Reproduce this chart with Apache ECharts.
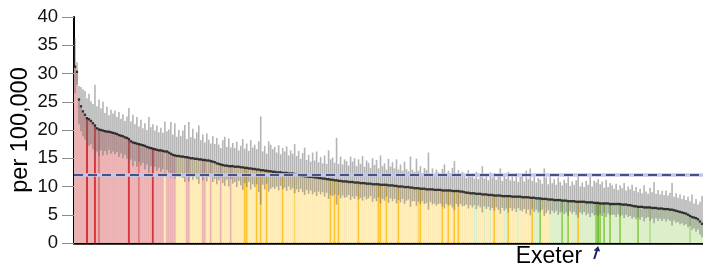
<!DOCTYPE html>
<html>
<head>
<meta charset="utf-8">
<script src="https://cdn.jsdelivr.net/npm/echarts@6/dist/echarts.min.js"></script>
<style>
  html, body { margin: 0; padding: 0; background: #fff; }
  #chart { width: 703px; height: 269px; }
</style>
</head>
<body>
<div id="chart"></div>
<script>
// rate per 100,000, sorted high to low (one value per local authority)
const rate = [
  31.2,30.3,25.4,24.2,23.3,22.7,22.1,21.9,21.6,21.2,
  20.8,20.3,20.1,20.0,19.9,19.8,19.7,19.7,19.6,19.5,
  19.4,19.3,19.1,19.0,18.9,18.7,18.6,18.4,18.0,17.8,
  17.7,17.6,17.5,17.4,17.3,17.2,17.0,16.9,16.8,16.7,
  16.6,16.5,16.4,16.4,16.3,16.2,16.2,16.0,15.8,15.6,
  15.5,15.4,15.4,15.3,15.3,15.2,15.2,15.1,15.0,15.0,
  14.9,14.9,14.8,14.8,14.7,14.7,14.6,14.6,14.5,14.4,
  14.3,14.1,14.0,13.9,13.8,13.7,13.7,13.6,13.6,13.6,
  13.5,13.5,13.5,13.4,13.4,13.3,13.3,13.2,13.2,13.1,
  13.1,13.0,13.0,12.9,12.9,12.8,12.8,12.7,12.7,12.6,
  12.6,12.5,12.5,12.5,12.4,12.4,12.4,12.3,12.3,12.3,
  12.2,12.1,12.0,11.9,11.9,11.8,11.8,11.7,11.7,11.7,
  11.6,11.6,11.5,11.5,11.4,11.4,11.3,11.3,11.2,11.2,
  11.1,11.1,11.0,11.0,10.9,10.9,10.9,10.8,10.8,10.8,
  10.7,10.7,10.7,10.6,10.6,10.6,10.5,10.5,10.5,10.4,
  10.4,10.4,10.4,10.3,10.3,10.3,10.3,10.2,10.2,10.2,
  10.1,10.1,10.0,10.0,10.0,9.9,9.9,9.9,9.8,9.8,
  9.7,9.7,9.7,9.6,9.6,9.6,9.5,9.5,9.5,9.5,
  9.4,9.4,9.4,9.4,9.3,9.3,9.3,9.3,9.3,9.2,
  9.2,9.2,9.2,9.1,9.1,9.0,8.9,8.9,8.8,8.8,
  8.8,8.7,8.7,8.7,8.6,8.6,8.6,8.5,8.5,8.5,
  8.4,8.4,8.4,8.4,8.3,8.3,8.3,8.3,8.3,8.2,
  8.2,8.2,8.2,8.2,8.1,8.1,8.1,8.1,8.0,8.0,
  8.0,7.9,7.9,7.9,7.8,7.8,7.8,7.7,7.7,7.7,
  7.6,7.6,7.6,7.6,7.5,7.5,7.5,7.4,7.4,7.4,
  7.4,7.3,7.3,7.3,7.3,7.3,7.2,7.2,7.2,7.2,
  7.1,7.1,7.1,7.0,7.0,7.0,7.0,7.0,6.9,6.9,
  6.9,6.9,6.9,6.9,6.8,6.8,6.8,6.7,6.7,6.6,
  6.5,6.5,6.4,6.4,6.4,6.3,6.3,6.3,6.3,6.2,
  6.2,6.2,6.1,6.1,6.1,6.0,6.0,6.0,5.9,5.9,
  5.8,5.7,5.6,5.5,5.4,5.3,5.2,5.0,4.8,4.6,
  4.5,4.4,4.2,3.8,3.4
];

// 95% confidence limits
const upper = [
  36.2,32.0,27.8,27.6,27.2,26.9,25.6,26.4,25.1,24.6,
  28.0,24.2,25.4,23.8,25.0,23.0,24.1,22.6,23.6,22.9,
  23.4,22.3,23.2,22.0,22.8,21.6,22.4,23.9,21.5,22.7,
  21.0,22.3,20.6,21.8,20.3,21.2,20.0,22.3,20.5,21.0,
  19.9,20.8,19.6,20.4,19.5,21.5,19.8,20.1,21.4,19.2,
  21.2,18.8,20.0,18.9,19.9,20.9,18.4,21.4,18.7,20.2,
  18.5,19.6,20.8,18.2,19.2,17.8,19.4,18.3,17.6,18.9,
  17.5,18.6,17.4,16.8,18.2,18.8,17.0,18.5,16.9,17.7,
  16.8,17.9,16.4,17.2,18.4,16.7,17.6,16.3,18.2,16.9,
  17.4,16.6,18.0,22.4,16.2,17.2,15.8,18.0,17.4,16.6,
  17.0,16.0,17.3,15.7,16.8,16.2,17.1,15.5,16.4,15.8,
  17.5,15.4,16.3,14.9,15.9,16.9,14.7,15.6,14.4,16.0,
  14.6,16.2,14.3,15.2,14.1,15.5,14.0,16.4,14.8,15.1,
  14.2,18.6,14.0,15.3,13.9,14.8,14.5,13.7,15.3,14.4,
  15.0,13.6,14.8,14.0,15.4,13.5,14.6,14.2,13.3,15.0,
  13.8,14.7,13.2,15.5,13.6,14.1,13.0,14.9,13.5,14.3,
  13.2,14.8,13.0,13.9,12.8,14.4,13.1,12.7,15.3,13.0,
  12.6,14.9,12.8,13.6,12.4,13.3,12.9,16.0,12.3,13.2,
  12.1,13.0,12.5,12.2,13.1,13.9,12.0,12.8,12.4,13.3,
  14.5,12.0,12.9,11.8,12.6,12.2,11.5,12.9,11.7,12.3,
  11.4,12.6,11.3,12.0,13.6,11.4,12.2,11.1,12.5,11.6,
  12.3,11.2,11.9,13.2,11.0,12.1,11.4,12.6,11.1,11.9,
  11.0,12.4,10.8,11.7,12.1,10.9,12.8,11.3,13.2,11.0,
  11.8,10.7,11.5,11.2,10.5,13.2,11.6,10.4,11.9,10.6,
  11.3,10.3,11.6,10.8,10.2,11.2,10.6,11.8,10.1,10.9,
  10.3,11.1,12.2,10.0,10.7,9.9,11.0,10.3,11.7,10.0,
  11.0,10.7,11.3,10.4,10.9,9.8,11.2,9.9,10.6,10.2,
  9.6,10.5,9.4,10.2,9.7,10.6,9.3,10.0,9.5,10.3,
  9.2,9.9,9.0,9.6,8.8,10.2,9.1,8.7,9.8,9.0,
  10.8,8.7,9.4,8.6,9.2,8.5,9.3,8.4,8.9,10.6,
  8.2,8.8,8.0,8.6,7.8,8.4,7.6,8.2,7.4,8.6,
  7.0,7.8,6.8,7.3,8.3
];

const lower = [
  26.5,28.0,21.0,19.8,18.9,18.3,17.8,17.2,17.5,16.6,
  14.9,16.2,15.4,16.4,15.5,16.3,15.6,16.5,15.8,16.2,
  15.7,16.1,15.2,15.9,15.0,15.6,14.9,14.2,14.8,13.6,
  14.5,13.5,14.3,13.7,14.2,13.0,13.9,12.4,13.6,13.1,
  13.5,12.8,13.3,12.6,13.1,11.9,12.9,12.5,11.6,12.4,
  11.4,12.3,11.8,12.4,11.5,10.8,12.2,10.9,12.1,11.2,
  11.9,11.3,10.5,12.0,11.1,12.0,10.9,11.7,11.9,10.8,
  11.3,10.4,11.1,11.6,10.6,10.1,11.2,10.0,11.3,10.5,
  10.8,9.9,11.0,10.2,9.4,10.6,9.9,10.8,9.5,10.4,
  9.9,10.4,9.0,6.8,10.3,9.5,10.5,9.1,9.6,9.9,
  9.6,10.0,9.3,10.1,9.5,9.8,9.2,10.0,9.4,9.7,
  8.8,9.5,9.0,9.6,9.0,8.5,9.4,8.7,9.3,8.6,
  9.0,8.3,9.1,8.6,9.0,8.2,8.9,7.8,8.5,8.3,
  8.6,6.8,8.5,7.9,8.4,8.0,8.1,8.5,7.6,8.2,
  7.8,8.3,7.7,8.0,7.5,8.2,7.7,7.9,8.3,7.3,
  7.9,7.4,8.1,7.0,7.8,7.5,8.2,7.1,7.9,7.4,
  7.8,7.0,7.6,7.2,7.8,6.9,7.5,7.7,6.4,7.4,
  7.4,6.6,7.3,6.9,7.4,6.9,7.1,5.9,7.3,6.8,
  7.0,6.6,6.9,7.0,6.5,6.1,6.9,6.6,6.8,6.3,
  5.8,6.9,6.4,6.9,6.5,6.6,6.8,6.1,6.7,6.3,
  6.7,6.0,6.6,6.3,5.4,6.5,6.0,6.4,5.8,6.2,
  5.7,6.3,5.9,5.2,6.2,5.7,6.1,5.4,6.2,5.7,
  6.1,5.5,6.2,5.8,5.6,6.0,5.2,5.9,4.9,6.0,
  5.5,5.9,5.4,5.6,5.9,4.8,5.3,5.8,5.1,5.7,
  5.3,5.7,5.0,5.4,5.6,5.1,5.4,4.8,5.6,5.2,
  5.5,5.0,4.5,5.4,5.1,5.5,4.9,5.2,4.6,5.3,
  4.9,5.0,4.8,5.1,4.8,5.3,4.6,5.2,4.9,5.0,
  5.0,4.6,5.1,4.7,4.9,4.4,5.0,4.6,4.8,4.3,
  4.6,4.2,4.5,4.1,4.6,3.8,4.4,4.6,3.9,4.3,
  3.5,4.4,3.9,4.3,3.9,4.3,3.8,4.2,3.9,3.1,
  4.0,3.6,3.7,3.3,3.5,3.1,3.3,2.8,3.0,2.3,
  2.6,2.0,2.4,1.5,1.0
];

// group of each bar, run-length coded in bar order
// P pink / R,r red (highlight), Y yellow / O,o gold (highlight), G green / N,n,E green (highlight)
const groupRuns = [
  ['P',6],['R',1],['P',3],['R',1],['P',1],['r',1],['P',14],['R',1],['P',4],['r',1],
  ['P',6],['R',1],['P',5],['Y',1],['P',5],['Y',5],['P',2],['Y',6],['P',2],['Y',2],
  ['P',1],['Y',4],['P',1],['Y',4],['P',1],['Y',6],['O',2],['Y',4],['O',1],['Y',1],
  ['O',1],['Y',2],['O',1],['Y',7],['O',1],['Y',5],['o',1],['Y',17],['O',1],['Y',1],
  ['O',1],['Y',1],['O',1],['Y',9],['O',1],['Y',9],['O',2],['Y',2],['O',1],['Y',5],
  ['O',1],['Y',9],['o',1],['O',1],['Y',10],['O',1],['Y',2],['O',1],['Y',2],['O',1],
  ['Y',1],['O',1],['Y',7],['G',2],['Y',3],['G',1],['Y',2],['G',1],['Y',1],['O',1],
  ['Y',4],['G',2],['O',1],['Y',4],['G',1],['Y',6],['O',1],['G',3],['N',1],['Y',4],
  ['G',6],['N',1],['G',2],['N',1],['Y',1],['G',3],['O',1],['G',8],['N',1],['E',1],
  ['N',1],['G',1],['N',1],['G',2],['N',1],['G',4],['N',1],['G',8],['N',1],['G',5],
  ['n',1],['G',19],['n',1],['G',6]
];

const englandRate = 12.0;
const exeterIndex = 262;
const exeterLabel = 'Exeter';

const colorMap = {
  P: '#eab2b3', R: '#d8353b', r: '#e07a7e',
  Y: '#feeab5', O: '#fdc631', o: '#fdd769',
  G: '#ddeeca', N: '#93cf56', n: '#b6de90', E: '#74bd3a'
};

const groups = [];
groupRuns.forEach(([g, n]) => { for (let k = 0; k < n; k++) groups.push(g); });

const categories = rate.map((_, i) => String(i + 1));

const chart = echarts.init(document.getElementById('chart'));

const option = {
  animation: false,
  grid: { left: 74, right: 0, top: 17, bottom: 26, outerBoundsMode: 'none', containLabel: false },
  xAxis: {
    type: 'category',
    data: categories,
    boundaryGap: true,
    axisLine: { show: true, lineStyle: { color: '#000', width: 2.5 } },
    axisTick: { show: false },
    axisLabel: { show: false },
    splitLine: { show: false }
  },
  yAxis: {
    type: 'value',
    min: 0,
    max: 40,
    interval: 5,
    name: 'per 100,000',
    nameLocation: 'middle',
    nameGap: 41,
    nameMoveOverlap: false,
    nameTextStyle: { fontSize: 23.5, color: '#000', fontFamily: 'Liberation Sans, Arial, sans-serif' },
    axisLine: { show: true, lineStyle: { color: '#000', width: 2 } },
    axisTick: { show: true, length: 12, lineStyle: { color: '#8c8c8c', width: 1 } },
    axisLabel: { fontSize: 18.5, color: '#111', margin: 16, fontFamily: 'Liberation Sans, Arial, sans-serif' },
    splitLine: { show: false }
  },
  series: [
    {
      type: 'bar',
      barCategoryGap: '0%',
      silent: true,
      z: 1,
      data: rate.map((v, i) => ({ value: v, itemStyle: { color: colorMap[groups[i]] } }))
    },
    {
      type: 'custom',
      silent: true,
      z: 2,
      data: rate.map((_, i) => [i, lower[i], upper[i]]),
      renderItem: function (params, api) {
        const x = api.coord([api.value(0), 0])[0];
        const top = api.coord([api.value(0), api.value(2)])[1];
        const bot = api.coord([api.value(0), api.value(1)])[1];
        const w = api.size([1, 0])[0] * 0.8;
        return {
          type: 'rect',
          shape: { x: x - w / 2, y: top, width: w, height: bot - top },
          style: { fill: 'rgba(105,105,105,0.5)' }
        };
      }
    },
    {
      type: 'scatter',
      silent: true,
      z: 3,
      symbol: 'rect',
      symbolSize: [2.3, 2.3],
      itemStyle: { color: '#111' },
      data: rate,
      markLine: {
        silent: true,
        symbol: 'none',
        label: { show: false },
        data: [
          { yAxis: englandRate, lineStyle: { color: '#c4c7e6', width: 3.5, type: 'solid' } },
          { yAxis: englandRate, lineStyle: { color: '#1c2a6e', width: 1.6, type: [9, 5] } }
        ]
      }
    }
  ]
};

chart.setOption(option);

// label and arrow for Exeter
const px = chart.convertToPixel({ xAxisIndex: 0 }, exeterIndex);
chart.setOption({
  graphic: [
    {
      type: 'text',
      x: px - 16,
      y: 257,
      style: {
        text: exeterLabel,
        fontSize: 23,
        fill: '#000',
        align: 'right',
        verticalAlign: 'middle',
        fontFamily: 'Liberation Sans, Arial, sans-serif'
      }
    },
    {
      type: 'line',
      shape: { x1: px - 4, y1: 259, x2: px - 0.8, y2: 249 },
      style: { stroke: '#1c2366', lineWidth: 2 }
    },
    {
      type: 'polygon',
      shape: { points: [[px, 246], [px - 4.5, 250.5], [px + 2, 251.5]] },
      style: { fill: '#1c2366' }
    }
  ]
});
</script>
</body>
</html>
